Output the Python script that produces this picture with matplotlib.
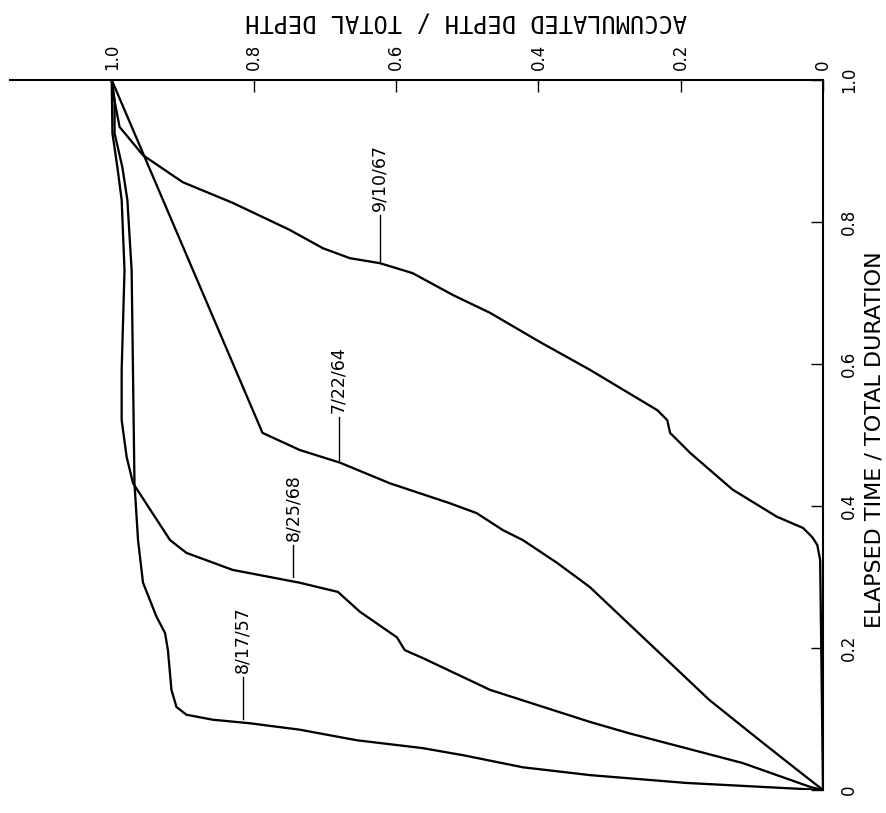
import matplotlib
matplotlib.use("Agg")
import matplotlib.pyplot as plt

# elapsed time / total duration (t) and accumulated depth / total depth (d)
t_081757 = [0, 0.002, 0.010, 0.021, 0.032, 0.049, 0.059, 0.070, 0.085, 0.094, 0.099,
            0.106, 0.117, 0.141, 0.197, 0.221, 0.244, 0.292, 0.352, 0.432, 0.732,
            0.831, 0.877, 0.925, 0.972, 1.0]
d_081757 = [0, 0.040, 0.193, 0.328, 0.422, 0.506, 0.563, 0.655, 0.736, 0.806, 0.858,
            0.895, 0.909, 0.916, 0.921, 0.925, 0.937, 0.956, 0.963, 0.968, 0.972,
            0.978, 0.985, 0.996, 0.996, 1.0]

t_082568 = [0, 0.004, 0.038, 0.080, 0.096, 0.141, 0.186, 0.197, 0.215, 0.251, 0.279,
            0.292, 0.310, 0.334, 0.352, 0.432, 0.469, 0.521, 0.592, 0.732, 0.831,
            0.877, 0.925, 1.0]
d_082568 = [0, 0.017, 0.113, 0.273, 0.328, 0.468, 0.563, 0.588, 0.599, 0.651, 0.682,
            0.736, 0.830, 0.895, 0.918, 0.970, 0.979, 0.986, 0.986, 0.982, 0.986,
            0.992, 0.999, 1.0]

t_072264 = [0, 0.025, 0.070, 0.127, 0.286, 0.320, 0.352, 0.366, 0.390, 0.404, 0.432,
            0.461, 0.479, 0.503, 1.0]
d_072264 = [0, 0.032, 0.089, 0.160, 0.328, 0.374, 0.422, 0.450, 0.487, 0.525, 0.609,
            0.679, 0.736, 0.788, 1.0]

t_091067 = [0, 0.324, 0.345, 0.356, 0.369, 0.385, 0.423, 0.475, 0.503, 0.521, 0.535,
            0.592, 0.631, 0.672, 0.697, 0.728, 0.742, 0.749, 0.763, 0.789, 0.827,
            0.856, 0.894, 0.911, 0.934, 0.976, 1.0]
d_091067 = [0, 0.004, 0.008, 0.015, 0.028, 0.065, 0.127, 0.187, 0.215, 0.219, 0.233,
            0.328, 0.398, 0.468, 0.520, 0.577, 0.623, 0.665, 0.703, 0.750, 0.830,
            0.900, 0.956, 0.970, 0.989, 0.997, 1.0]

storms = ["8/17/57", "8/25/68", "7/22/64", "9/10/67"]
times = [t_081757, t_082568, t_072264, t_091067]
depths = [d_081757, d_082568, d_072264, d_091067]

ticks = [0, 0.2, 0.4, 0.6, 0.8, 1.0]
tick_labels = ["0", "0.2", "0.4", "0.6", "0.8", "1.0"]

# where each storm label sits: depth of leader, leader start/end time
lab_d = [0.816, 0.745, 0.681, 0.623]
lab_t0 = [0.100, 0.300, 0.465, 0.745]
lab_t1 = [0.159, 0.345, 0.525, 0.810]

fig = plt.figure(figsize=(8.86, 8.13), dpi=100)
ax = fig.add_axes([10 / 886, 23 / 813, 813 / 886, 710 / 813])

for t, d in zip(times, depths):
    ax.plot(d, t, color="black", lw=1.65, solid_joinstyle="round")

for name, d, t0, t1 in zip(storms, lab_d, lab_t0, lab_t1):
    ax.plot([d, d], [t0, t1], color="black", lw=1.0)
    ax.text(d, t1 + 0.006, name, rotation=90, ha="center", va="bottom", fontsize=12.5)

ax.set_xlim(1.143, 0)
ax.set_ylim(0, 1.0)

ax.spines["left"].set_visible(False)
ax.spines["bottom"].set_visible(False)
ax.spines["top"].set_linewidth(1.5)
ax.spines["right"].set_linewidth(1.5)

ax.xaxis.set_ticks_position("top")
ax.yaxis.set_ticks_position("right")
ax.set_xticks(ticks)
ax.set_xticklabels(tick_labels, rotation=90)
ax.set_yticks(ticks)
ax.set_yticklabels(tick_labels, rotation=90, va="center")
ax.tick_params(axis="x", direction="in", length=8.5, width=1, pad=7, labelsize=12)
ax.tick_params(axis="y", direction="in", length=8.5, width=1, pad=12, labelsize=12)

fig.text(466 / 886, 1 - 22 / 813, "ACCUMULATED DEPTH / TOTAL DEPTH", rotation=180,
         ha="center", va="center", family="DejaVu Sans Mono", fontsize=17)
fig.text(875 / 886, 1 - 440 / 813, "ELAPSED TIME / TOTAL DURATION", rotation=90,
         ha="center", va="center", fontsize=16)

fig.savefig("out.png", dpi=100)
